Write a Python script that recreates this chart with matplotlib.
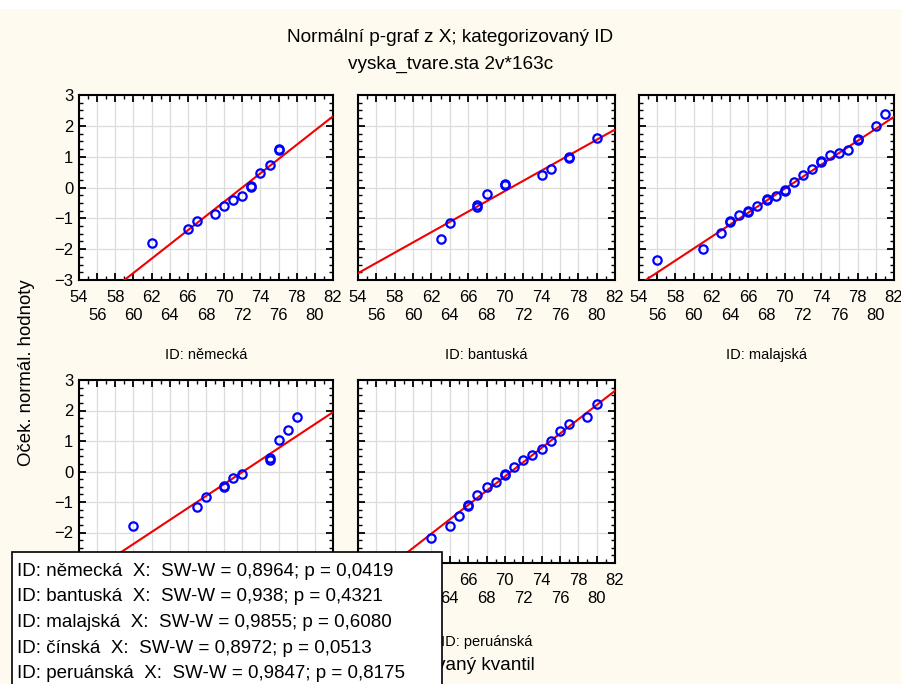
import numpy as np
import matplotlib
matplotlib.use("Agg")
import matplotlib.pyplot as plt
from matplotlib.ticker import MultipleLocator, FixedLocator
from matplotlib.patches import Rectangle

plt.rcParams["font.family"] = ["Liberation Sans", "DejaVu Sans"]

# ---------- data ----------
groups = ["německá", "bantuská", "malajská", "čínská", "peruánská"]

x_nemecka = [62, 66, 67, 69, 70, 71, 72, 73, 73, 74, 75, 76, 76]
y_nemecka = [-1.79, -1.35, -1.09, -0.85, -0.60, -0.41, -0.28, 0.02, 0.06, 0.48, 0.72, 1.22, 1.26]

x_bantuska = [63, 64, 67, 67, 68, 70, 70, 74, 75, 77, 77, 80]
y_bantuska = [-1.66, -1.16, -0.62, -0.58, -0.22, 0.07, 0.11, 0.41, 0.60, 0.95, 0.99, 1.62]

x_malajska = [56, 61, 63, 64, 64, 65, 66, 66, 67, 68, 68, 69, 70, 70, 71,
              72, 73, 74, 74, 75, 76, 77, 78, 78, 80, 81]
y_malajska = [-2.36, -1.98, -1.49, -1.12, -1.08, -0.90, -0.79, -0.75, -0.60, -0.41, -0.37,
              -0.28, -0.11, -0.07, 0.17, 0.41, 0.60, 0.83, 0.87, 1.04, 1.12, 1.23, 1.53, 1.57,
              1.99, 2.37]

x_cinska = [60, 67, 68, 70, 70, 71, 72, 75, 75, 76, 77, 78]
y_cinska = [-1.78, -1.17, -0.85, -0.50, -0.46, -0.22, -0.09, 0.39, 0.43, 1.04, 1.37, 1.80]

x_peruanska = [62, 64, 65, 66, 66, 67, 68, 69, 70, 70, 71, 72, 73, 74, 75, 76, 77, 79, 80]
y_peruanska = [-2.18, -1.78, -1.47, -1.13, -1.09, -0.78, -0.52, -0.35, -0.11, -0.07, 0.16,
               0.37, 0.54, 0.74, 0.99, 1.32, 1.57, 1.80, 2.20]

# fitted line: y = (x - mean) / sd
line_mean = [72.0, 70.7, 70.2, 72.1, 70.7]
line_sd = [4.33, 6.01, 5.15, 5.09, 4.27]

sw_w = ["0,8964", "0,938", "0,9855", "0,8972", "0,9847"]
p_val = ["0,0419", "0,4321", "0,6080", "0,0513", "0,8175"]

xs = [x_nemecka, x_bantuska, x_malajska, x_cinska, x_peruanska]
ys = [y_nemecka, y_bantuska, y_malajska, y_cinska, y_peruanska]

# ---------- figure ----------
W, H = 901, 684
BG = "#fefaf0"
fig = plt.figure(figsize=(W / 100, H / 100), dpi=100, facecolor=BG)
fig.patches.append(Rectangle((0, 1 - 9 / H), 1, 9 / H, transform=fig.transFigure,
                             facecolor="white", edgecolor="none", zorder=0))

def fx(px):
    return px / W

def fy(py):
    return 1 - py / H

fig.text(0.5, fy(38), "Normální p-graf z X; kategorizovaný ID", ha="center", va="center", fontsize=13.7)
fig.text(0.5, fy(64), "vyska_tvare.sta 2v*163c", ha="center", va="center", fontsize=13.7)

lefts = [79, 358, 639]
widths = [254, 257, 255]
rows = [(95, 280), (380, 563)]
title_off = [75, 79]

major_x = np.arange(54, 83, 2)
xlabels = [str(v) if (v - 54) % 4 == 0 else "\n" + str(v) for v in major_x]

for i, g in enumerate(groups):
    r, c = divmod(i, 3)
    top, bot = rows[r]
    ax = fig.add_axes([fx(lefts[c]), fy(bot), widths[c] / W, (bot - top) / H])
    ax.set_facecolor("white")
    ax.set_xlim(54, 82)
    ax.set_ylim(-3, 3)
    ax.xaxis.set_major_locator(FixedLocator(major_x))
    ax.set_xticklabels(xlabels, linespacing=1.3)
    ax.xaxis.set_minor_locator(MultipleLocator(1))
    ax.yaxis.set_major_locator(MultipleLocator(1))
    ax.yaxis.set_minor_locator(MultipleLocator(0.25))
    ax.grid(True, which="major", color="#dcdcdc", lw=0.9)
    ax.set_axisbelow(True)
    ax.tick_params(which="both", direction="in", top=True, right=True, labelsize=12, colors="black")
    ax.tick_params(which="major", length=5, width=1.3)
    ax.tick_params(which="minor", length=3, width=1.0)
    ax.tick_params(axis="x", pad=7)
    ax.tick_params(axis="y", pad=4)
    for s in ax.spines.values():
        s.set_linewidth(1.5)
    if c != 0:
        ax.set_yticklabels([])

    lx = np.array([54, 82])
    ax.plot(lx, (lx - line_mean[i]) / line_sd[i], color="#f00000", lw=1.5, zorder=3)
    ax.plot(xs[i], ys[i], "o", ms=6, mfc="none", mec="#0000ff", mew=1.6, zorder=4)

    fig.text(fx(lefts[c] + widths[c] / 2), fy(bot + title_off[r]), "ID: " + g,
             ha="center", va="center", fontsize=10.5)

fig.text(fx(27), fy(373), "Oček. normál. hodnoty", rotation=90, ha="center", va="center", fontsize=13.4)
fig.text(fx(455), fy(665), "Pozorovaný kvantil", ha="center", va="center", fontsize=13.7)

# statistics box
box = Rectangle((fx(12), -0.01), 430 / W, (684 - 552) / H + 0.01, transform=fig.transFigure,
                facecolor="white", edgecolor="black", lw=1.2, zorder=10)
fig.patches.append(box)
for i, g in enumerate(groups):
    yy = 571 + i * 25.7
    fig.text(fx(17), fy(yy), f"ID: {g}  X:  SW-W = {sw_w[i]}; p = {p_val[i]}",
             ha="left", va="center", fontsize=13.5, zorder=11)

fig.savefig("out.png", dpi=100, facecolor=BG)
